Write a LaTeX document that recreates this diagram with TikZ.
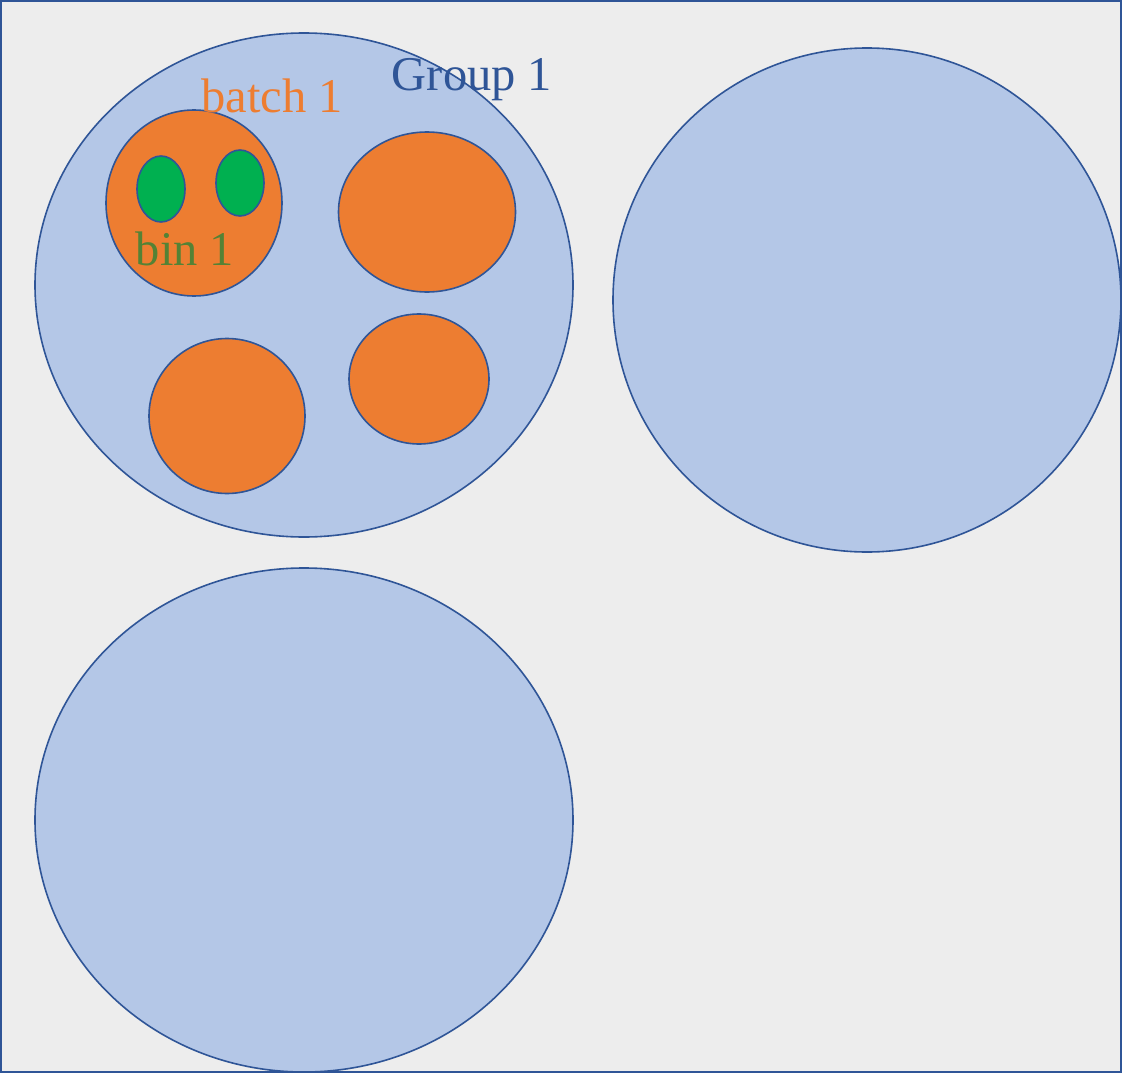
\documentclass[tikz,border=0pt]{standalone}
\usepackage{fontspec}
\setmainfont{Liberation Serif}
\definecolor{gBlue}{HTML}{2F5597}
\definecolor{gLight}{HTML}{B4C7E7}
\definecolor{bOrange}{HTML}{ED7D31}
\definecolor{bGreen}{HTML}{00B050}
\definecolor{tGreen}{HTML}{548235}
\definecolor{pGray}{HTML}{EDEDED}
\usetikzlibrary{shapes.geometric}

\begin{document}
\begin{tikzpicture}
		[x=1pt, y=-1pt,
		group/.style ={ellipse, draw=gBlue, line width=1.6pt, fill=gLight, inner sep=0pt},
		batch/.style ={ellipse, draw=gBlue, line width=1.6pt, fill=bOrange, inner sep=0pt},
		bin/.style ={ellipse, draw=gBlue, line width=1.6pt, fill=bGreen, inner sep=0pt},
		lbl/.style ={anchor=base, inner sep=0pt, font=\fontsize{48.5}{48}\selectfont}]
		\useasboundingbox (0,0) rectangle (1122,1073);
		\draw[gBlue, line width=2.4pt, fill=pGray] (1,1) rectangle (1121,1072);

		\draw (304,285) node[group, minimum width=538, minimum height=504] (g1) {};
		\draw (867,300) node[group, minimum width=508, minimum height=504] (g2) {};
		\draw (304,820) node[group, minimum width=538, minimum height=504] (g3) {};

		\draw (194,203) node[batch, minimum width=176, minimum height=186] (b1) {};
		\draw (427,212) node[batch, minimum width=177, minimum height=160] (b2) {};
		\draw (227,416) node[batch, minimum width=156, minimum height=155] (b3) {};
		\draw (419,379) node[batch, minimum width=140, minimum height=130] (b4) {};

		\draw (161,189) node[bin, minimum width=48, minimum height=66] (n1) {};
		\draw (240,183) node[bin, minimum width=48, minimum height=66] (n2) {};

		\draw (472,90) node[lbl, text=gBlue] (tg) {Group 1};
		\draw (272,112) node[lbl, text=bOrange] (tb) {batch 1};
		\draw (185,265) node[lbl, text=tGreen] (tn) {bin 1};

	\end{tikzpicture}
\end{document}
